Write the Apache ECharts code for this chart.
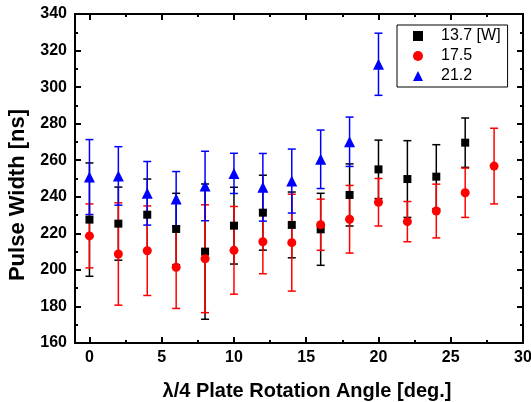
<!DOCTYPE html>
<html>
<head>
<meta charset="utf-8">
<script src="https://cdn.jsdelivr.net/npm/echarts@6/dist/echarts.min.js"></script>
<style>
	html, body { margin: 0; padding: 0; background: #fff; }
	#chart { width: 531px; height: 402px; }
</style>
</head>
<body>
<div id="chart"></div>
<script>
// data
var anglesBlack = [0, 2, 4, 6, 8, 10, 12, 14, 16, 18, 20, 22, 24, 26];
var black = [227.5, 225.3, 230.2, 222.4, 210, 224.2, 231.3, 224.6, 222.2, 241, 255, 249.7, 251, 269.6];
var blackErr = [31, 20, 19.5, 19.5, 37, 21, 20.5, 18, 19.7, 17, 16, 21, 17.5, 13.5];

var anglesRed = [0, 2, 4, 6, 8, 10, 12, 14, 16, 18, 20, 22, 24, 26, 28];
var red = [218.6, 208.7, 210.5, 201.4, 206.1, 210.7, 215.4, 214.9, 224.7, 227.7, 237, 226.4, 232.2, 242.2, 256.8];
var redErr = [17.5, 28, 24.5, 22.5, 29.5, 24, 17.5, 26.5, 14, 18.5, 13, 11, 14.7, 13.5, 20.7];

var anglesBlue = [0, 2, 4, 6, 8, 10, 12, 14, 16, 18, 20];
var blue = [250.8, 251.4, 241.9, 238.8, 245.9, 252.8, 245.2, 248.6, 260.5, 270.1, 312.5];
var blueErr = [20.5, 16, 17.4, 15, 19, 11, 18.5, 17.5, 16, 13.5, 17];

var xMajor = [0, 5, 10, 15, 20, 25, 30];
var xMinor = [2.5, 7.5, 12.5, 17.5, 22.5, 27.5];
var seriesNames = ['13.7 [W]', '17.5', '21.2'];

var FONT = '"Liberation Sans", Arial, sans-serif';

function points(xs, ys) {
	var out = [];
	for (var i = 0; i < xs.length; i++) out.push([xs[i], ys[i]]);
	return out;
}
function errRows(xs, ys, es) {
	var out = [];
	for (var i = 0; i < xs.length; i++) out.push([xs[i], ys[i] - es[i], ys[i] + es[i]]);
	return out;
}

// error bars with caps
function errSeries(name, rows, color) {
	return {
		name: name,
		type: 'custom',
		data: rows,
		renderItem: function(params, api) {
			var lo = api.coord([api.value(0), api.value(1)]);
			var hi = api.coord([api.value(0), api.value(2)]);
			var w = 4;
			var st = { stroke: color, lineWidth: 1.5 };
			return {
				type: 'group',
				children: [
					{ type: 'line', shape: { x1: lo[0], y1: lo[1], x2: hi[0], y2: hi[1] }, style: st },
					{ type: 'line', shape: { x1: lo[0] - w, y1: lo[1], x2: lo[0] + w, y2: lo[1] }, style: st },
					{ type: 'line', shape: { x1: hi[0] - w, y1: hi[1], x2: hi[0] + w, y2: hi[1] }, style: st }
				]
			};
		}
	};
}

var frameLine = { show: true, onZero: false, lineStyle: { color: '#000', width: 2 } };

var myChart = echarts.init(document.getElementById('chart'));
var option = {
	animation: false,
	grid: { left: 75, right: 8, top: 14, bottom: 59, outerBoundsMode: 'none' },
	legend: {
		orient: 'vertical',
		left: 397,
		top: 25,
		padding: [3, 7, 3, 16],
		itemGap: 4,
		itemWidth: 10,
		itemHeight: 10,
		borderColor: '#000',
		borderWidth: 1,
		borderRadius: 0,
		textStyle: { fontFamily: FONT, fontSize: 16, color: '#000', padding: [0, 0, 0, 13] },
		data: [
			{ name: seriesNames[0], icon: 'rect' },
			{ name: seriesNames[1], icon: 'circle' },
			{ name: seriesNames[2], icon: 'triangle' }
		]
	},
	xAxis: [
		{
			type: 'value', min: -1, max: 30, position: 'bottom',
			name: 'λ/4 Plate Rotation Angle [deg.]',
			nameLocation: 'middle', nameGap: 38,
			nameTextStyle: { fontFamily: FONT, fontSize: 20, fontWeight: 'bold', color: '#000', padding: [0, 0, 0, 16] },
			axisLine: frameLine,
			axisTick: { show: true, inside: true, length: 6, customValues: xMajor, lineStyle: { width: 2, color: '#000' } },
			axisLabel: { customValues: xMajor, margin: 7, fontFamily: FONT, fontSize: 16, fontWeight: 'bold', color: '#000' },
			splitLine: { show: false }
		},
		{
			type: 'value', min: -1, max: 30, position: 'bottom',
			axisLine: { show: false },
			axisTick: { show: true, inside: true, length: 3, customValues: xMinor, lineStyle: { width: 2, color: '#000' } },
			axisLabel: { show: false },
			splitLine: { show: false }
		},
		{
			type: 'value', min: -1, max: 30, position: 'top',
			axisLine: frameLine,
			axisTick: { show: true, inside: true, length: 6, customValues: xMajor, lineStyle: { width: 2, color: '#000' } },
			axisLabel: { show: false },
			splitLine: { show: false }
		},
		{
			type: 'value', min: -1, max: 30, position: 'top',
			axisLine: { show: false },
			axisTick: { show: true, inside: true, length: 3, customValues: xMinor, lineStyle: { width: 2, color: '#000' } },
			axisLabel: { show: false },
			splitLine: { show: false }
		}
	],
	yAxis: [
		{
			type: 'value', min: 160, max: 340, interval: 20, position: 'left',
			name: 'Pulse Width [ns]',
			nameLocation: 'middle', nameGap: 43,
			nameTextStyle: { fontFamily: FONT, fontSize: 22, fontWeight: 'bold', color: '#000', padding: [0, 33, 0, 0] },
			axisLine: frameLine,
			axisTick: { show: true, inside: true, length: 6, lineStyle: { width: 2, color: '#000' } },
			minorTick: { show: true, splitNumber: 2, length: 3, lineStyle: { width: 2, color: '#000' } },
			axisLabel: { margin: 8, fontFamily: FONT, fontSize: 16, fontWeight: 'bold', color: '#000' },
			splitLine: { show: false }
		},
		{
			type: 'value', min: 160, max: 340, interval: 20, position: 'right',
			axisLine: frameLine,
			axisTick: { show: true, inside: true, length: 6, lineStyle: { width: 2, color: '#000' } },
			minorTick: { show: true, splitNumber: 2, length: 3, lineStyle: { width: 2, color: '#000' } },
			axisLabel: { show: false },
			splitLine: { show: false }
		}
	],
	series: [
		errSeries('err0', errRows(anglesBlack, black, blackErr), '#000000'),
		{ name: seriesNames[0], type: 'scatter', symbol: 'rect', symbolSize: 8, itemStyle: { color: '#000000', opacity: 1 }, data: points(anglesBlack, black) },
		errSeries('err1', errRows(anglesRed, red, redErr), '#ff0000'),
		{ name: seriesNames[1], type: 'scatter', symbol: 'circle', symbolSize: 9, itemStyle: { color: '#ff0000', opacity: 1 }, data: points(anglesRed, red) },
		errSeries('err2', errRows(anglesBlue, blue, blueErr), '#0000ff'),
		{ name: seriesNames[2], type: 'scatter', symbol: 'triangle', symbolSize: 11, itemStyle: { color: '#0000ff', opacity: 1 }, data: points(anglesBlue, blue) }
	]
};
myChart.setOption(option);
</script>
</body>
</html>
